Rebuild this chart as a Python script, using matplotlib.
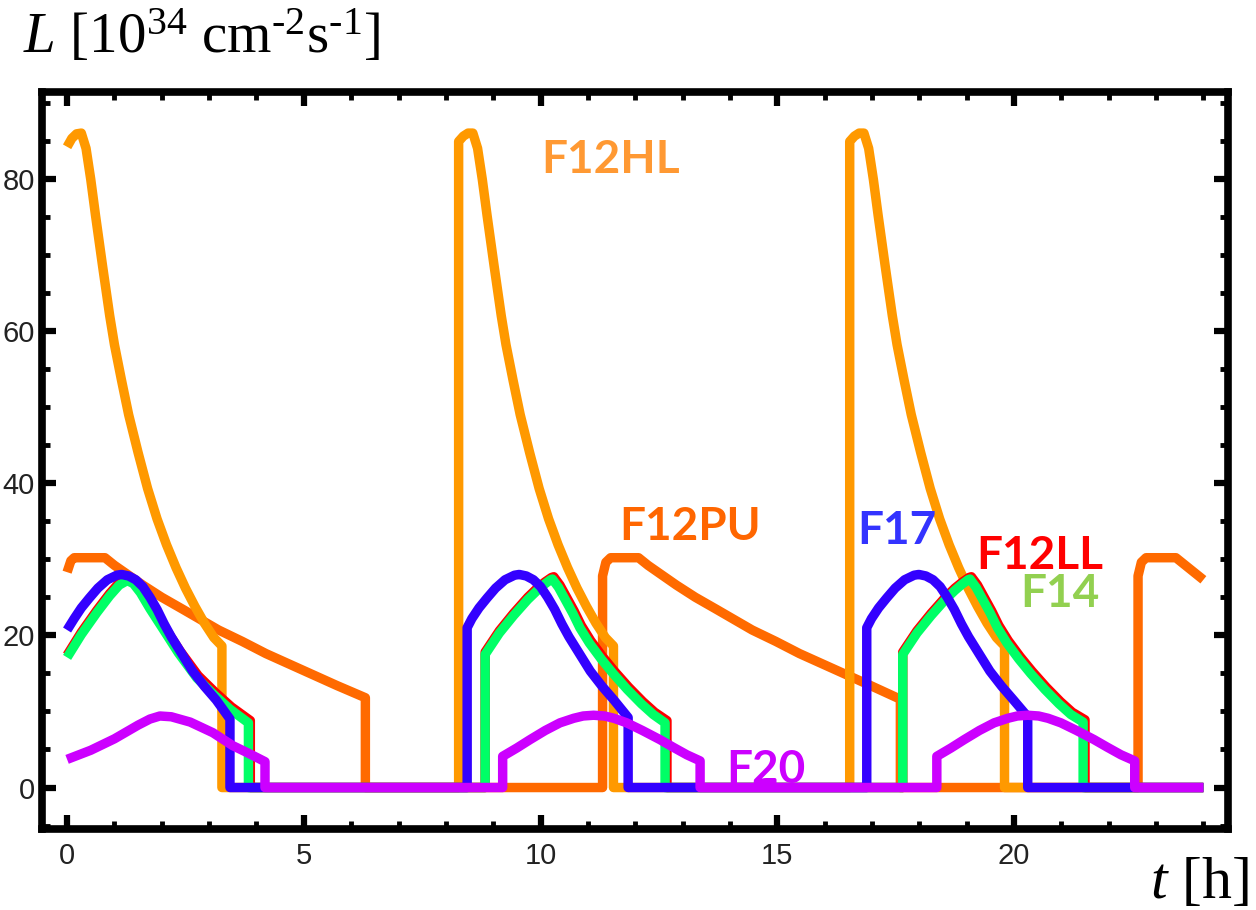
import matplotlib
matplotlib.use("Agg")
import matplotlib.pyplot as plt
from matplotlib.ticker import MultipleLocator

plt.rcParams['font.family'] = ['Liberation Sans', 'DejaVu Sans']
plt.rcParams['mathtext.fontset'] = 'custom'
plt.rcParams['mathtext.rm'] = 'Liberation Serif'
plt.rcParams['mathtext.it'] = 'Liberation Serif:italic'

# ---------------- data (t in hours, L in 1e34 cm^-2 s^-1) ----------------
hl_t = [0.0, 0.1, 0.2, 0.3, 0.4, 0.5, 0.6, 0.75, 0.9, 1.0, 1.15, 1.3, 1.5, 1.7, 1.9, 2.1, 2.3, 2.5, 2.7, 2.9, 3.1, 3.27, 3.27,
        8.27, 8.27, 8.37, 8.47, 8.57, 8.67, 8.77, 8.87, 9.02, 9.17, 9.27, 9.42, 9.57, 9.77, 9.97, 10.17, 10.37, 10.57, 10.77, 10.97, 11.17, 11.37, 11.54, 11.54,
        16.53, 16.53, 16.63, 16.73, 16.83, 16.93, 17.03, 17.13, 17.28, 17.43, 17.53, 17.68, 17.83, 18.03, 18.23, 18.43, 18.63, 18.83, 19.03, 19.23, 19.43, 19.63, 19.8, 19.8,
        24.0]
hl_L = [84.2, 85.3, 85.9, 86.0, 84.0, 79.9, 75.2, 68.5, 62.0, 58.2, 53.5, 49.0, 44.0, 39.3, 35.3, 31.9, 28.9, 26.2, 23.8, 21.6, 19.7, 18.6, 0.0,
        0.0, 84.9, 85.6, 86.0, 86.0, 84.0, 79.9, 75.2, 68.5, 62.0, 58.2, 53.5, 49.0, 44.0, 39.3, 35.3, 31.9, 28.9, 26.2, 23.8, 21.6, 19.7, 18.6, 0.0,
        0.0, 84.9, 85.6, 86.0, 86.0, 84.0, 79.9, 75.2, 68.5, 62.0, 58.2, 53.5, 49.0, 44.0, 39.3, 35.3, 31.9, 28.9, 26.2, 23.8, 21.6, 19.7, 18.6, 0.0,
        0.0]

pu_t = [0.0, 0.08, 0.15, 0.8, 1.0, 1.3, 1.6, 2.0, 2.45, 3.2, 3.7, 4.2, 4.7, 5.2, 5.7, 6.3, 6.3,
        11.31, 11.31, 11.38, 11.48, 12.07, 12.27, 12.57, 12.87, 13.27, 13.72, 14.47, 14.97, 15.47, 15.97, 16.47, 16.97, 17.6, 17.6,
        22.62, 22.62, 22.69, 22.79, 23.42, 23.62, 23.92, 24.0]
pu_L = [28.3, 29.8, 30.2, 30.2, 29.2, 27.9, 26.6, 25.0, 23.4, 20.7, 19.2, 17.6, 16.2, 14.8, 13.4, 11.8, 0.0,
        0.0, 27.8, 29.6, 30.2, 30.2, 29.2, 27.9, 26.6, 25.0, 23.4, 20.7, 19.2, 17.6, 16.2, 14.8, 13.4, 11.6, 0.0,
        0.0, 27.8, 29.6, 30.2, 30.2, 29.2, 27.7, 27.3]

f17_t = [0.0, 0.15, 0.3, 0.47, 0.65, 0.85, 1.05, 1.15, 1.3, 1.45, 1.6, 1.75, 1.9, 2.05, 2.2, 2.4, 2.65, 2.9, 3.15, 3.44, 3.44,
         8.45, 8.45, 8.55, 8.7, 8.87, 9.05, 9.25, 9.45, 9.55, 9.7, 9.85, 10.0, 10.15, 10.3, 10.45, 10.6, 10.8, 11.05, 11.3, 11.55, 11.85, 11.85,
         16.89, 16.89, 16.99, 17.14, 17.31, 17.49, 17.69, 17.89, 17.99, 18.14, 18.29, 18.44, 18.59, 18.74, 18.89, 19.04, 19.24, 19.49, 19.74, 19.99, 20.29, 20.29,
         24.0]
f17_L = [20.7, 22.2, 23.6, 24.9, 26.2, 27.3, 27.9, 28.0, 27.8, 27.3, 26.4, 25.0, 23.4, 21.5, 19.8, 17.8, 15.3, 13.3, 11.5, 9.0, 0.0,
         0.0, 21.0, 22.2, 23.6, 24.9, 26.2, 27.3, 27.9, 28.0, 27.8, 27.3, 26.4, 25.0, 23.4, 21.5, 19.8, 17.8, 15.3, 13.3, 11.5, 9.2, 0.0,
         0.0, 21.0, 22.2, 23.6, 24.9, 26.2, 27.3, 27.9, 28.0, 27.8, 27.3, 26.4, 25.0, 23.4, 21.5, 19.8, 17.8, 15.3, 13.3, 11.5, 9.3, 0.0,
         0.0]

f14_t = [0.0, 0.3, 0.63, 0.9, 1.1, 1.27, 1.4, 1.55, 1.75, 2.03, 2.35, 2.74, 3.1, 3.44, 3.83, 3.83,
         8.83, 8.83, 9.13, 9.43, 9.73, 9.93, 10.08, 10.21, 10.25, 10.38, 10.53, 10.68, 10.83, 11.03, 11.28, 11.53, 11.83, 12.13, 12.38, 12.63, 12.63,
         17.65, 17.65, 17.95, 18.25, 18.55, 18.75, 18.9, 19.03, 19.07, 19.2, 19.35, 19.5, 19.65, 19.85, 20.1, 20.35, 20.65, 20.95, 21.2, 21.46, 21.46,
         24.0]
f14_L = [17.1, 20.1, 23.0, 25.2, 26.6, 27.2, 26.8, 25.6, 23.5, 20.8, 17.7, 14.4, 12.2, 10.3, 8.5, 0.0,
         0.0, 17.5, 20.3, 22.6, 24.7, 25.9, 26.7, 27.3, 27.4, 26.3, 24.6, 22.9, 21.0, 19.0, 16.9, 15.0, 12.9, 11.0, 9.6, 8.5, 0.0,
         0.0, 17.5, 20.3, 22.6, 24.7, 25.9, 26.7, 27.3, 27.4, 26.3, 24.6, 22.9, 21.0, 19.0, 16.9, 15.0, 12.9, 11.0, 9.6, 8.6, 0.0,
         0.0]

ll_t = [0.0, 0.3, 0.63, 0.9, 1.1, 1.29, 1.43, 1.58, 1.78, 2.06, 2.38, 2.77, 3.13, 3.47, 3.87, 3.87,
        8.83, 8.83, 9.13, 9.43, 9.73, 9.93, 10.09, 10.23, 10.28, 10.41, 10.56, 10.71, 10.86, 11.06, 11.31, 11.56, 11.86, 12.16, 12.41, 12.67, 12.67,
        17.65, 17.65, 17.95, 18.25, 18.55, 18.75, 18.91, 19.05, 19.1, 19.23, 19.38, 19.53, 19.68, 19.88, 20.13, 20.38, 20.68, 20.98, 21.23, 21.5, 21.5,
        24.0]
ll_L = [17.4, 20.4, 23.3, 25.5, 26.9, 27.5, 27.1, 25.9, 23.8, 21.1, 18.0, 14.7, 12.5, 10.6, 8.8, 0.0,
        0.0, 17.8, 20.6, 22.9, 25.0, 26.2, 27.0, 27.6, 27.7, 26.6, 24.9, 23.2, 21.3, 19.3, 17.2, 15.3, 13.2, 11.3, 9.9, 8.8, 0.0,
        0.0, 17.8, 20.6, 22.9, 25.0, 26.2, 27.0, 27.6, 27.7, 26.6, 24.9, 23.2, 21.3, 19.3, 17.2, 15.3, 13.2, 11.3, 9.9, 8.9, 0.0,
        0.0]

f20_t = [0.0, 0.5, 1.0, 1.5, 1.75, 1.96, 2.2, 2.6, 3.08, 3.5, 3.8, 4.18, 4.18,
         9.2, 9.2, 9.5, 9.78, 10.1, 10.41, 10.7, 10.9, 11.12, 11.35, 11.55, 11.82, 12.15, 12.52, 12.8, 13.09, 13.37, 13.37,
         18.37, 18.37, 18.67, 18.95, 19.27, 19.58, 19.87, 20.07, 20.29, 20.52, 20.72, 20.99, 21.32, 21.69, 21.97, 22.26, 22.55, 22.55,
         24.0]
f20_L = [3.7, 4.9, 6.4, 8.2, 9.0, 9.4, 9.3, 8.6, 7.2, 5.5, 4.6, 3.4, 0.0,
         0.0, 4.1, 5.2, 6.3, 7.5, 8.5, 9.1, 9.4, 9.5, 9.4, 9.1, 8.5, 7.5, 6.3, 5.3, 4.3, 3.5, 0.0,
         0.0, 4.1, 5.2, 6.3, 7.5, 8.5, 9.1, 9.4, 9.5, 9.4, 9.1, 8.5, 7.5, 6.3, 5.3, 4.3, 3.5, 0.0,
         0.0]

x_major = [0, 5, 10, 15, 20]
y_major = [0, 20, 40, 60, 80]

series = [
    (pu_t, pu_L, '#FF6A00', 2),
    (hl_t, hl_L, '#FF9900', 3),
    (ll_t, ll_L, '#FF0000', 4),
    (f14_t, f14_L, '#00FF66', 5),
    (f17_t, f17_L, '#3300FF', 6),
    (f20_t, f20_L, '#CC00FF', 7),
]

labels = [
    ('F12HL', 11.47, 82.5, '#FF9933'),
    ('F12PU', 13.15, 34.2, '#FF6600'),
    ('F17', 17.53, 33.7, '#3333FF'),
    ('F12LL', 20.55, 30.4, '#FF0000'),
    ('F14', 20.97, 25.4, '#92D050'),
    ('F20', 14.76, 2.3, '#CC00FF'),
]

# ---------------- figure ----------------
fig = plt.figure(figsize=(12.56, 9.10), dpi=100)
ax = fig.add_axes([42/1256, 1-829/910, (1228-42)/1256, (829-92)/910])

for t, L, c, z in series:
    ax.plot(t, L, color=c, lw=6.8, zorder=z, solid_joinstyle='round', solid_capstyle='butt')

for txt, x, y, c in labels:
    ax.text(x, y, txt, color=c, fontsize=33, fontweight='bold', family=['Lato', 'DejaVu Sans'],
            ha='center', va='center', zorder=10)

ax.set_xlim(-0.53, 24.52)
ax.set_ylim(-5.45, 91.4)
ax.set_xticks(x_major)
ax.set_yticks(y_major)
ax.xaxis.set_minor_locator(MultipleLocator(1))
ax.yaxis.set_minor_locator(MultipleLocator(5))
for s in ax.spines.values():
    s.set_linewidth(5.5)
    s.set_zorder(20)
ax.tick_params(which='both', direction='in', top=True, right=True, color='black')
ax.tick_params(which='major', length=10, width=4.5, labelsize=21, labelcolor='#222222', pad=5)
ax.tick_params(which='minor', length=6, width=3.5)
ax.tick_params(axis='x', which='major', pad=9)

fig.text(23/1256, 1-53/910, '$L$ [10$^{34}$ cm$^{\u2010 2}$s$^{\u2010 1}$]', fontsize=41,
         family='Liberation Serif', ha='left', va='baseline')
fig.text(1249/1256, 1-898/910, '$t$ [h]', fontsize=43, family='Liberation Serif',
         ha='right', va='baseline')

fig.savefig('out.png', dpi=100)
